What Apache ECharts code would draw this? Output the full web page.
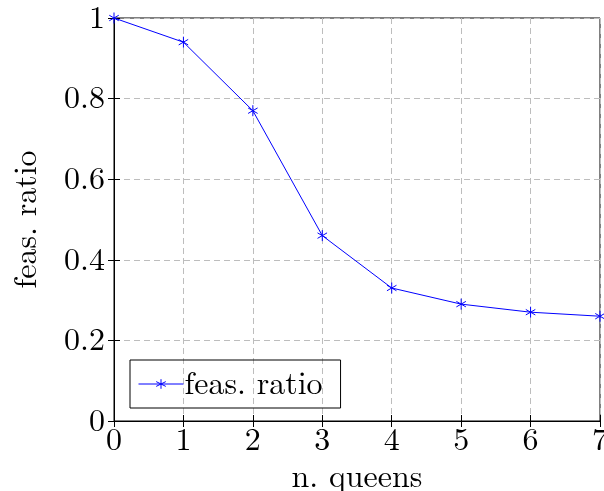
<!DOCTYPE html>
<html lang="en">
<head>
    <meta charset="UTF-8">
    <title>feas. ratio</title>
    <style>
        body { margin: 0; background: #fff; }
    </style>
</head>
<body>
    <div id="main" style="width: 604px;height:491px;"></div>
    <script src="https://cdn.jsdelivr.net/npm/echarts@6/dist/echarts.min.js"></script>
<script type="text/javascript">
    // data
    var queens = [0, 1, 2, 3, 4, 5, 6, 7];
    var feasRatio = [1, 0.94, 0.77, 0.46, 0.33, 0.29, 0.27, 0.26];
    var yTicks = [0, 0.2, 0.4, 0.6, 0.8, 1];

    var font = "'Latin Modern Roman', 'Liberation Serif', serif";
    var star = 'path://M0,-5L0,5M-4.33,-2.5L4.33,2.5M-4.33,2.5L4.33,-2.5';

    var points = [];
    for (var i = 0; i < queens.length; i++) {
        points.push([queens[i], feasRatio[i]]);
    }

    var myChart = echarts.init(document.getElementById('main'));

    var dashed = { show: true, lineStyle: { color: '#bdbdbd', type: [6, 4], width: 1 } };
    var inTick = { show: true, inside: true, length: 6, lineStyle: { color: '#000' } };

    myChart.setOption({
        animation: false,
        color: ['#0000ff'],
        textStyle: { fontFamily: font },
        grid: {
            left: 114, right: 4, top: 18, bottom: 70,
            containLabel: false, outerBoundsMode: 'none',
            show: true, borderColor: '#000', borderWidth: 1
        },
        legend: {
            left: 130, top: 360,
            padding: [8, 18, 8, 8],
            borderColor: '#000', borderWidth: 1, borderRadius: 0,
            itemWidth: 45, itemHeight: 12, itemGap: 4,
            itemStyle: { borderWidth: 1 },
            lineStyle: { width: 1 },
            textStyle: { fontFamily: font, fontSize: 32, color: '#000', padding: [0, 0, 0, -4] },
            data: ['feas. ratio']
        },
        xAxis: [{
            type: 'value', min: 0, max: 7, interval: 1,
            name: 'n. queens', nameLocation: 'middle', nameGap: 38,
            nameTextStyle: { fontFamily: font, fontSize: 32, color: '#000' },
            axisLine: { show: true, lineStyle: { color: '#000' } },
            axisTick: inTick,
            axisLabel: { fontFamily: font, fontSize: 32, color: '#000', margin: 3 },
            splitLine: dashed
        }, {
            type: 'value', min: 0, max: 7, interval: 1, position: 'top',
            axisLine: { show: false },
            axisTick: inTick,
            axisLabel: { show: false },
            splitLine: { show: false }
        }],
        yAxis: [{
            type: 'value', min: 0, max: 1, interval: 0.2,
            name: 'feas. ratio', nameLocation: 'middle', nameGap: 72,
            nameTextStyle: { fontFamily: font, fontSize: 32, color: '#000' },
            axisLine: { show: true, lineStyle: { color: '#000' } },
            axisTick: inTick,
            axisLabel: {
                fontFamily: font, fontSize: 32, color: '#000', margin: 9,
                formatter: function (v) {
                    for (var k = 0; k < yTicks.length; k++) {
                        if (Math.abs(v - yTicks[k]) < 1e-9) return String(yTicks[k]);
                    }
                    return '';
                }
            },
            splitLine: dashed
        }, {
            type: 'value', min: 0, max: 1, interval: 0.2, position: 'right',
            axisLine: { show: false },
            axisTick: inTick,
            axisLabel: { show: false },
            splitLine: { show: false }
        }],
        series: [{
            name: 'feas. ratio',
            type: 'line',
            data: points,
            symbol: star,
            symbolSize: 11,
            symbolKeepAspect: true,
            showAllSymbol: true,
            lineStyle: { color: '#0000ff', width: 1 },
            itemStyle: { color: 'rgba(0,0,0,0)', borderColor: '#0000ff', borderWidth: 1 },
            emphasis: { disabled: true }
        }]
    });
</script>
</body>
</html>
